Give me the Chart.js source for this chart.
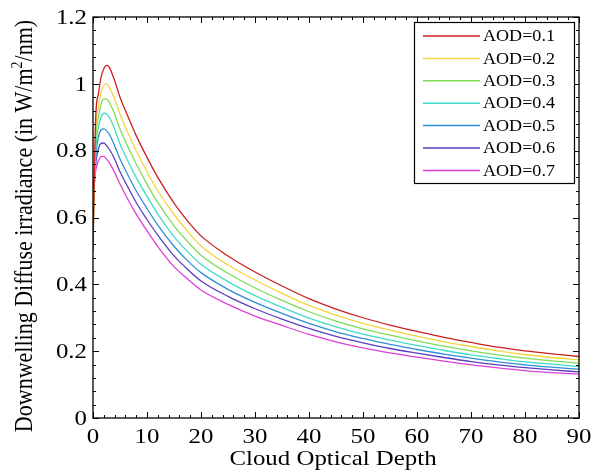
<!DOCTYPE html>
<html>
<head>
<meta charset="utf-8">
<script src="https://cdn.jsdelivr.net/npm/chart.js@4.4.1/dist/chart.umd.min.js"></script>
<style>
  html, body { margin: 0; padding: 0; background: #fff; }
  #wrap { width: 598px; height: 473px; position: relative; }
</style>
</head>
<body>
<div id="wrap"><canvas id="c" width="598" height="473"></canvas></div>
<script>
// ---- Data ----
const cloudOpticalDepth = [0, 0.5, 1, 1.5, 2, 2.5, 3, 4, 5, 6, 8, 10, 12, 15, 17.5, 20, 25, 30, 35, 40, 45, 50, 55, 60, 65, 70, 75, 80, 85, 90];

const aod01 = [0.50, 0.90, 0.97, 1.02, 1.045, 1.055, 1.05, 1.01, 0.96, 0.92, 0.845, 0.78, 0.72, 0.643, 0.59, 0.545, 0.485, 0.437, 0.395, 0.357, 0.326, 0.300, 0.278, 0.259, 0.241, 0.226, 0.212, 0.201, 0.192, 0.184];
const aod02 = [0.52, 0.86, 0.93, 0.975, 0.995, 1.0, 0.99, 0.955, 0.91, 0.87, 0.80, 0.737, 0.68, 0.609, 0.559, 0.515, 0.458, 0.413, 0.373, 0.337, 0.308, 0.283, 0.263, 0.245, 0.228, 0.214, 0.201, 0.190, 0.181, 0.174];
const aod03 = [0.55, 0.83, 0.90, 0.94, 0.955, 0.955, 0.945, 0.91, 0.865, 0.828, 0.76, 0.70, 0.645, 0.575, 0.528, 0.487, 0.433, 0.389, 0.352, 0.318, 0.29, 0.267, 0.248, 0.231, 0.215, 0.201, 0.189, 0.179, 0.171, 0.164];
const aod04 = [0.58, 0.80, 0.87, 0.90, 0.912, 0.91, 0.90, 0.865, 0.82, 0.785, 0.72, 0.663, 0.61, 0.543, 0.498, 0.46, 0.408, 0.366, 0.331, 0.299, 0.273, 0.251, 0.233, 0.217, 0.202, 0.189, 0.178, 0.168, 0.161, 0.154];
const aod05 = [0.61, 0.78, 0.84, 0.862, 0.865, 0.86, 0.85, 0.815, 0.775, 0.742, 0.68, 0.627, 0.577, 0.514, 0.471, 0.435, 0.385, 0.346, 0.313, 0.283, 0.258, 0.238, 0.220, 0.205, 0.191, 0.179, 0.168, 0.159, 0.152, 0.146];
const aod06 = [0.64, 0.76, 0.805, 0.822, 0.823, 0.815, 0.805, 0.775, 0.737, 0.705, 0.645, 0.594, 0.547, 0.485, 0.445, 0.41, 0.364, 0.327, 0.296, 0.268, 0.244, 0.225, 0.208, 0.194, 0.181, 0.169, 0.159, 0.151, 0.144, 0.138];
const aod07 = [0.66, 0.74, 0.77, 0.782, 0.783, 0.775, 0.765, 0.735, 0.70, 0.668, 0.61, 0.56, 0.513, 0.453, 0.416, 0.383, 0.34, 0.305, 0.277, 0.25, 0.228, 0.21, 0.195, 0.182, 0.17, 0.159, 0.15, 0.142, 0.136, 0.131];

const seriesLabels = ["AOD=0.1", "AOD=0.2", "AOD=0.3", "AOD=0.4", "AOD=0.5", "AOD=0.6", "AOD=0.7"];
const seriesValues = [aod01, aod02, aod03, aod04, aod05, aod06, aod07];
const seriesColors = ["#cc1f1f", "#f2d540", "#7edc58", "#3fdcc8", "#2f8fd6", "#5a3fbf", "#dd3fd6"];

const xTitle = "Cloud Optical Depth";
const yTitleParts = ["Downwelling Diffuse irradiance (in W/m", "2", "/nm)"];

const SERIF = "'Liberation Serif', 'DejaVu Serif', serif";
const SX = 1.13; // horizontal stretch of the reference's text

const datasets = seriesValues.map((vals, i) => ({
  label: seriesLabels[i],
  data: cloudOpticalDepth.map((x, j) => ({ x: x, y: vals[j] })),
  borderColor: seriesColors[i],
  backgroundColor: seriesColors[i],
  borderWidth: 1.3,
  pointRadius: 0,
  cubicInterpolationMode: 'monotone',
  fill: false
}));

function stretchedText(ctx, text, x, y, align) {
  const w = ctx.measureText(text).width * SX;
  let left = x;
  if (align === 'center') left = x - w / 2;
  else if (align === 'right') left = x - w;
  ctx.save();
  ctx.translate(left, y);
  ctx.scale(SX, 1);
  ctx.textAlign = 'left';
  ctx.fillText(text, 0, 0);
  ctx.restore();
}

const framePlugin = {
  id: 'frame',
  afterDraw(chart) {
    const ctx = chart.ctx;
    const a = chart.chartArea;
    const xs = chart.scales.x, ys = chart.scales.y;
    ctx.save();
    ctx.strokeStyle = '#000';
    ctx.lineWidth = 1.3;
    ctx.strokeRect(a.left, a.top, a.right - a.left, a.bottom - a.top);
    ctx.lineWidth = 1;
    ctx.beginPath();
    for (let v = xs.min; v <= xs.max + 1e-9; v += 2) {
      const px = Math.round(xs.getPixelForValue(v)) + 0.5;
      const len = (Math.abs(v % 10) < 1e-9) ? 6 : 3;
      ctx.moveTo(px, a.bottom); ctx.lineTo(px, a.bottom - len);
      ctx.moveTo(px, a.top); ctx.lineTo(px, a.top + len);
    }
    for (let k = 0; k <= 30; k++) {
      const py = Math.round(ys.getPixelForValue(k * 0.04)) + 0.5;
      const len = (k % 5 === 0) ? 6 : 3;
      ctx.moveTo(a.left, py); ctx.lineTo(a.left + len, py);
      ctx.moveTo(a.right, py); ctx.lineTo(a.right - len, py);
    }
    ctx.stroke();

    // tick labels
    ctx.fillStyle = '#000';
    ctx.font = "22px " + SERIF;
    ctx.textBaseline = 'alphabetic';
    xs.ticks.forEach(t => {
      stretchedText(ctx, String(t.value), xs.getPixelForValue(t.value), a.bottom + 25, 'center');
    });
    ctx.textBaseline = 'middle';
    ys.ticks.forEach(t => {
      const lab = String(Number(t.value.toFixed(1)));
      stretchedText(ctx, lab, a.left - 6, ys.getPixelForValue(t.value) + 1, 'right');
    });

    // x title
    ctx.textBaseline = 'alphabetic';
    ctx.font = "22px " + SERIF;
    stretchedText(ctx, xTitle, (a.left + a.right) / 2 - 3, 465, 'center');

    // y title (rotated, superscript 2)
    ctx.save();
    const bigFont = "22px " + SERIF, smallFont = "14px " + SERIF;
    ctx.font = bigFont; const w0 = ctx.measureText(yTitleParts[0]).width;
    const w2 = ctx.measureText(yTitleParts[2]).width;
    ctx.font = smallFont; const w1 = ctx.measureText(yTitleParts[1]).width;
    const total = w0 + w1 + w2;
    ctx.translate(32, 226);
    ctx.rotate(-Math.PI / 2);
    ctx.scale(1, SX);
    ctx.textAlign = 'left';
    let x0 = -total / 2;
    ctx.font = bigFont; ctx.fillText(yTitleParts[0], x0, 0); x0 += w0;
    ctx.font = smallFont; ctx.fillText(yTitleParts[1], x0, -9); x0 += w1;
    ctx.font = bigFont; ctx.fillText(yTitleParts[2], x0, 0);
    ctx.restore();

    // legend box
    const lx = a.left + 321, ly = a.top + 5, lw = 160, lh = 161;
    ctx.fillStyle = '#fff';
    ctx.fillRect(lx, ly, lw, lh);
    ctx.strokeStyle = '#000';
    ctx.lineWidth = 1.2;
    ctx.strokeRect(lx + 0.5, ly + 0.5, lw, lh);
    ctx.font = "16px " + SERIF;
    ctx.textBaseline = 'middle';
    chart.data.datasets.forEach((ds, i) => {
      const yy = ly + 14 + i * 22.4;
      ctx.strokeStyle = ds.borderColor;
      ctx.lineWidth = 1.5;
      ctx.beginPath();
      ctx.moveTo(lx + 9, yy); ctx.lineTo(lx + 66, yy);
      ctx.stroke();
      ctx.fillStyle = '#000';
      stretchedText(ctx, ds.label, lx + 69, yy + 1, 'left');
    });
    ctx.restore();
  }
};

new Chart(document.getElementById('c'), {
  type: 'line',
  data: { datasets: datasets },
  options: {
    responsive: false,
    animation: false,
    devicePixelRatio: 1,
    layout: { padding: { top: 17, right: 19, left: 0, bottom: 0 } },
    plugins: { legend: { display: false }, tooltip: { enabled: false } },
    scales: {
      x: {
        type: 'linear', min: 0, max: 90,
        grid: { display: false, drawTicks: false },
        border: { display: false },
        ticks: { stepSize: 10, display: false },
        afterFit(s) { s.height = 55; }
      },
      y: {
        type: 'linear', min: 0, max: 1.2,
        grid: { display: false, drawTicks: false },
        border: { display: false },
        ticks: { stepSize: 0.2, display: false },
        afterFit(s) { s.width = 93; }
      }
    }
  },
  plugins: [framePlugin]
});
</script>
</body>
</html>
